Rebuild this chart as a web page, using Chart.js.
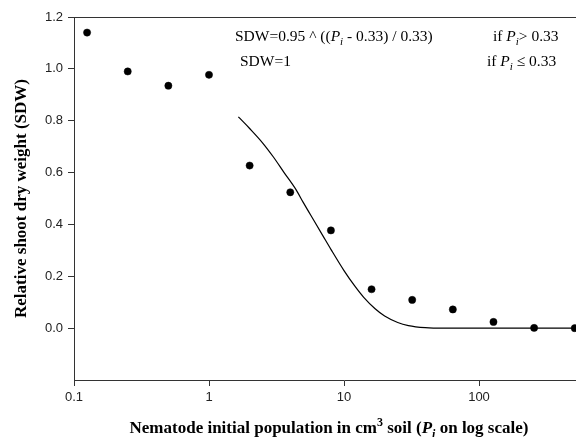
<!DOCTYPE html>
<html>
<head>
<meta charset="utf-8">
<script src="https://cdn.jsdelivr.net/npm/chart.js@4.4.1/dist/chart.umd.min.js"></script>
<style>
  html, body { margin: 0; padding: 0; background: #fff; overflow: hidden; }
  #wrap { width: 640px; height: 437px; }
</style>
</head>
<body>
<div id="wrap"><canvas id="chart" width="640" height="437"></canvas></div>
<script>
// observed relative shoot dry weight vs initial population
var popX = [0.125, 0.25, 0.5, 1, 2, 4, 8, 16, 32, 64, 128, 256, 512];
var sdwObs = [1.14, 0.99, 0.935, 0.977, 0.627, 0.524, 0.377, 0.15, 0.109, 0.072, 0.024, 0.001, 0.0];

// fitted curve
var curveX = [1.65, 2, 2.5, 3, 3.6, 4.4, 5, 6, 7, 8, 10, 12, 14, 17, 20, 25, 30, 40, 55, 80, 120, 512, 1000];
var curveY = [0.815, 0.77, 0.714, 0.66, 0.60, 0.535, 0.484, 0.414, 0.355, 0.304, 0.222, 0.163, 0.119, 0.075, 0.047, 0.022, 0.010, 0.002, 0.0, 0.0, 0.0, 0.0, 0.0];

var xTicks = [0.1, 1, 10, 100, 1000];
var yTicks = [-0.2, 0.0, 0.2, 0.4, 0.6, 0.8, 1.0, 1.2];

var SERIF = "'Liberation Serif', 'Times New Roman', serif";
var SANS = "'Liberation Sans', Arial, sans-serif";

function toXY(xs, ys) {
  var out = [];
  for (var i = 0; i < xs.length; i++) out.push({ x: xs[i], y: ys[i] });
  return out;
}

// draws a run of text pieces (italic, sub/superscript) starting at x
function drawRich(ctx, parts, x, y, align, size, bold) {
  function fontOf(p) {
    var s = p.sub || p.sup ? Math.round(size * 0.68) : size;
    return (p.it ? 'italic ' : '') + (bold ? 'bold ' : '') + s + 'px ' + SERIF;
  }
  var total = 0;
  parts.forEach(function (p) { ctx.font = fontOf(p); total += ctx.measureText(p.t).width; });
  var cx = align === 'center' ? x - total / 2 : x;
  ctx.textAlign = 'left';
  ctx.textBaseline = 'alphabetic';
  parts.forEach(function (p) {
    ctx.font = fontOf(p);
    var dy = p.sub ? size * 0.28 : (p.sup ? -size * 0.42 : 0);
    ctx.fillText(p.t, cx, y + dy);
    cx += ctx.measureText(p.t).width;
  });
}

var textPlugin = {
  id: 'textPlugin',
  afterDraw: function (chart) {
    var ctx = chart.ctx;
    var a = chart.chartArea;
    ctx.save();
    // top frame line
    ctx.strokeStyle = '#333';
    ctx.lineWidth = 1;
    ctx.beginPath();
    ctx.moveTo(a.left, a.top + 0.5);
    ctx.lineTo(a.right, a.top + 0.5);
    ctx.stroke();

    ctx.fillStyle = '#000';
    drawRich(ctx, [
      { t: 'SDW=0.95 ^ ((' }, { t: 'P', it: true }, { t: 'i', it: true, sub: true }, { t: ' - 0.33) / 0.33)' }
    ], 235, 41, 'left', 15.5, false);
    drawRich(ctx, [{ t: 'SDW=1' }], 240, 66, 'left', 15.5, false);
    drawRich(ctx, [
      { t: 'if ' }, { t: 'P', it: true }, { t: 'i', it: true, sub: true }, { t: '> 0.33' }
    ], 493, 41, 'left', 15.5, false);
    drawRich(ctx, [
      { t: 'if ' }, { t: 'P', it: true }, { t: 'i', it: true, sub: true }, { t: ' \u2264 0.33' }
    ], 487, 66, 'left', 15.5, false);

    // x axis title
    drawRich(ctx, [
      { t: 'Nematode initial population in cm' }, { t: '3', sup: true },
      { t: ' soil (' }, { t: 'P', it: true }, { t: 'i', it: true, sub: true },
      { t: ' on log scale)' }
    ], 329, 433, 'center', 17, true);
    ctx.restore();
  }
};

var ctx = document.getElementById('chart');

var chart = new Chart(ctx, {
  type: 'scatter',
  data: {
    datasets: [
      {
        label: 'fit',
        type: 'line',
        data: toXY(curveX, curveY),
        borderColor: '#000',
        borderWidth: 1.2,
        pointRadius: 0,
        fill: false,
        cubicInterpolationMode: 'monotone',
        order: 2
      },
      {
        label: 'observed',
        data: toXY(popX, sdwObs),
        backgroundColor: '#000',
        borderColor: '#000',
        borderWidth: 0.5,
        pointRadius: 3.6,
        order: 1
      }
    ]
  },
  options: {
    responsive: false,
    devicePixelRatio: 1,
    animation: false,
    layout: { padding: { top: 17, right: 26, bottom: 0, left: 0 } },
    plugins: {
      legend: { display: false },
      tooltip: { enabled: false }
    },
    scales: {
      x: {
        type: 'logarithmic',
        min: 0.1,
        max: 1000,
        afterBuildTicks: function (scale) {
          scale.ticks = xTicks.map(function (v) { return { value: v }; });
        },
        afterFit: function (scale) { scale.height = 57; },
        ticks: {
          autoSkip: false,
          maxRotation: 0,
          color: '#222',
          padding: 4,
          font: { family: SANS, size: 13 },
          callback: function (v) { return String(v); }
        },
        grid: { drawOnChartArea: false, drawTicks: true, tickLength: 6, color: '#333' },
        border: { display: true, color: '#333', width: 1 }
      },
      y: {
        min: -0.2,
        max: 1.2,
        afterBuildTicks: function (scale) {
          scale.ticks = yTicks.map(function (v) { return { value: v }; });
        },
        afterFit: function (scale) { scale.width = 74; },
        ticks: {
          color: '#222',
          padding: 5,
          font: { family: SANS, size: 13 },
          callback: function (v) { return v < -0.1 ? null : v.toFixed(1); }
        },
        grid: { drawOnChartArea: false, drawTicks: true, tickLength: 6, color: '#333' },
        border: { display: true, color: '#333', width: 1 },
        title: {
          display: true,
          text: 'Relative shoot dry weight (SDW)',
          color: '#000',
          padding: { top: 11, bottom: 0 },
          font: { family: SERIF, size: 17, weight: 'bold' }
        }
      }
    }
  },
  plugins: [textPlugin]
});
</script>
</body>
</html>
